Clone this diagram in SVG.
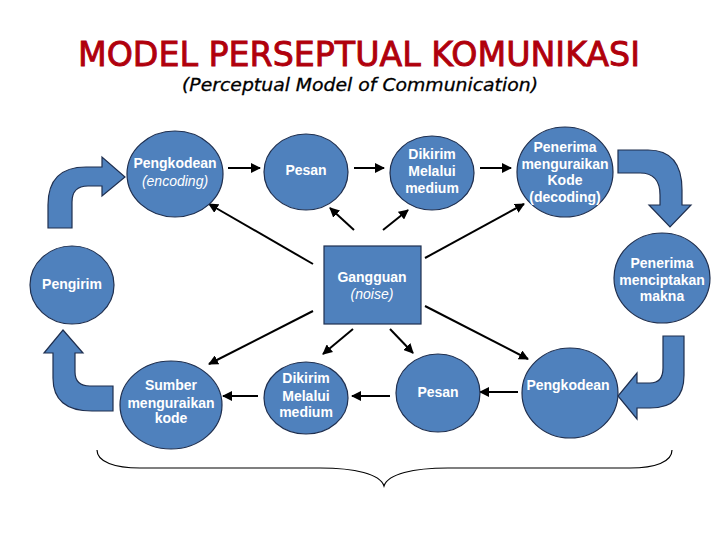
<svg xmlns="http://www.w3.org/2000/svg" width="720" height="540" viewBox="0 0 720 540">
<style>
.node{fill:#4f81bd;stroke:#1f2f4f;stroke-width:1.2}
.blk{fill:#4f81bd;stroke:#1f2f4f;stroke-width:1.2;stroke-linejoin:miter}
.t{font-family:"Liberation Sans",Arial,sans-serif;font-size:14px;font-weight:bold;fill:#ffffff;text-anchor:middle}
.i{font-style:italic;font-weight:normal}
.c{stroke:#000;stroke-width:2;fill:none;marker-end:url(#ah)}
</style>
<defs>
<marker id="ah" viewBox="0 0 10 10" refX="9" refY="5" markerWidth="5" markerHeight="5" orient="auto" markerUnits="strokeWidth">
<path d="M0,0 L10,5 L0,10 Z" fill="#000"/>
</marker>
</defs>
<rect width="720" height="540" fill="#ffffff"/>
<text x="359" y="66" font-family="'DejaVu Sans',sans-serif" font-size="34" fill="#b0000c" stroke="#b0000c" stroke-width="0.9" text-anchor="middle" textLength="562" lengthAdjust="spacingAndGlyphs">MODEL PERSEPTUAL KOMUNIKASI</text>
<text x="360" y="91" font-family="'DejaVu Sans',sans-serif" font-size="17" font-style="italic" fill="#000" stroke="#000" stroke-width="0.3" text-anchor="middle" textLength="356" lengthAdjust="spacingAndGlyphs">(Perceptual Model of Communication)</text>

<g id="connectors">
<line class="c" x1="228" y1="168" x2="260" y2="168"/>
<line class="c" x1="354" y1="168" x2="384" y2="168"/>
<line class="c" x1="480" y1="168" x2="511" y2="168"/>
<line class="c" x1="313" y1="264" x2="209" y2="204"/>
<line class="c" x1="354" y1="230" x2="330" y2="208"/>
<line class="c" x1="383" y1="230" x2="408" y2="210"/>
<line class="c" x1="425" y1="258" x2="524" y2="204"/>
<line class="c" x1="313" y1="311" x2="209" y2="364"/>
<line class="c" x1="353" y1="329" x2="323" y2="354"/>
<line class="c" x1="390" y1="329" x2="413" y2="353"/>
<line class="c" x1="425" y1="306" x2="528" y2="359"/>
<line class="c" x1="518" y1="392" x2="480" y2="392"/>
<line class="c" x1="390" y1="396" x2="352" y2="396"/>
<line class="c" x1="258" y1="396" x2="223" y2="396"/>
</g>

<g id="block-arrows">
<path class="blk" d="M48,228 L48,205 Q48,167 86,167 L102,167 L102,157 L125,177 L102,196 L102,186 L88,186 Q72,186 72,202 L72,228 Z"/>
<path class="blk" d="M63,330 L83,353 L75,353 L75,372 Q75,386 90,386 L113,386 L113,411 L92,411 Q53,411 53,378 L53,353 L44,353 Z"/>
<path class="blk" d="M618,150 L648,150 Q682,150 682,190 L682,205 L691,205 L670,227 L649,205 L660,205 L660,195 Q660,173 640,173 L618,173 Z"/>
<path class="blk" d="M663,336 L684,336 L684,375 Q684,408 650,408 L637,408 L637,419 L618,396 L637,373 L637,383 L650,383 Q663,383 663,368 Z"/>
</g>

<g id="brace">
<path d="M97,450 C97,462 115,468 140,468 L320,468 C355,468 380,474 384,486 C388,474 413,468 448,468 L630,468 C655,468 672,462 672,450" fill="none" stroke="#000" stroke-width="1.2"/>
</g>

<g id="n-pengkodean-top">
<ellipse class="node" cx="175" cy="174" rx="48" ry="43"/>
<text class="t" x="175" y="168">Pengkodean</text>
<text class="t i" x="175" y="186">(encoding)</text>
</g>
<g id="n-pesan-top">
<ellipse class="node" cx="306" cy="172" rx="42" ry="38"/>
<text class="t" x="306" y="175">Pesan</text>
</g>
<g id="n-dikirim-top">
<ellipse class="node" cx="432" cy="173" rx="42" ry="37"/>
<text class="t" x="432" y="159">Dikirim</text>
<text class="t" x="432" y="176">Melalui</text>
<text class="t" x="432" y="193">medium</text>
</g>
<g id="n-penerima-decoding">
<ellipse class="node" cx="565" cy="172" rx="48" ry="45"/>
<text class="t" x="565" y="152">Penerima</text>
<text class="t" x="565" y="169">menguraikan</text>
<text class="t" x="565" y="185">Kode</text>
<text class="t" x="565" y="202">(decoding)</text>
</g>
<g id="n-penerima-makna">
<ellipse class="node" cx="662" cy="278" rx="48" ry="45"/>
<text class="t" x="662" y="268">Penerima</text>
<text class="t" x="662" y="285">menciptakan</text>
<text class="t" x="662" y="301">makna</text>
</g>
<g id="n-pengirim">
<ellipse class="node" cx="72" cy="285" rx="42" ry="39"/>
<text class="t" x="72" y="289">Pengirim</text>
</g>
<g id="n-gangguan">
<rect class="node" x="324" y="246" width="97" height="78"/>
<text class="t" x="372" y="282">Gangguan</text>
<text class="t i" x="372" y="299">(noise)</text>
</g>
<g id="n-sumber">
<ellipse class="node" cx="171" cy="405" rx="51" ry="44"/>
<text class="t" x="171" y="390">Sumber</text>
<text class="t" x="171" y="408">menguraikan</text>
<text class="t" x="171" y="423">kode</text>
</g>
<g id="n-dikirim-bottom">
<ellipse class="node" cx="306" cy="398" rx="42" ry="36"/>
<text class="t" x="306" y="383">Dikirim</text>
<text class="t" x="306" y="401">Melalui</text>
<text class="t" x="306" y="417">medium</text>
</g>
<g id="n-pesan-bottom">
<ellipse class="node" cx="438" cy="393" rx="42" ry="39"/>
<text class="t" x="438" y="397">Pesan</text>
</g>
<g id="n-pengkodean-bottom">
<ellipse class="node" cx="570" cy="393" rx="48" ry="45"/>
<text class="t" x="568" y="390">Pengkodean</text>
</g>
</svg>
